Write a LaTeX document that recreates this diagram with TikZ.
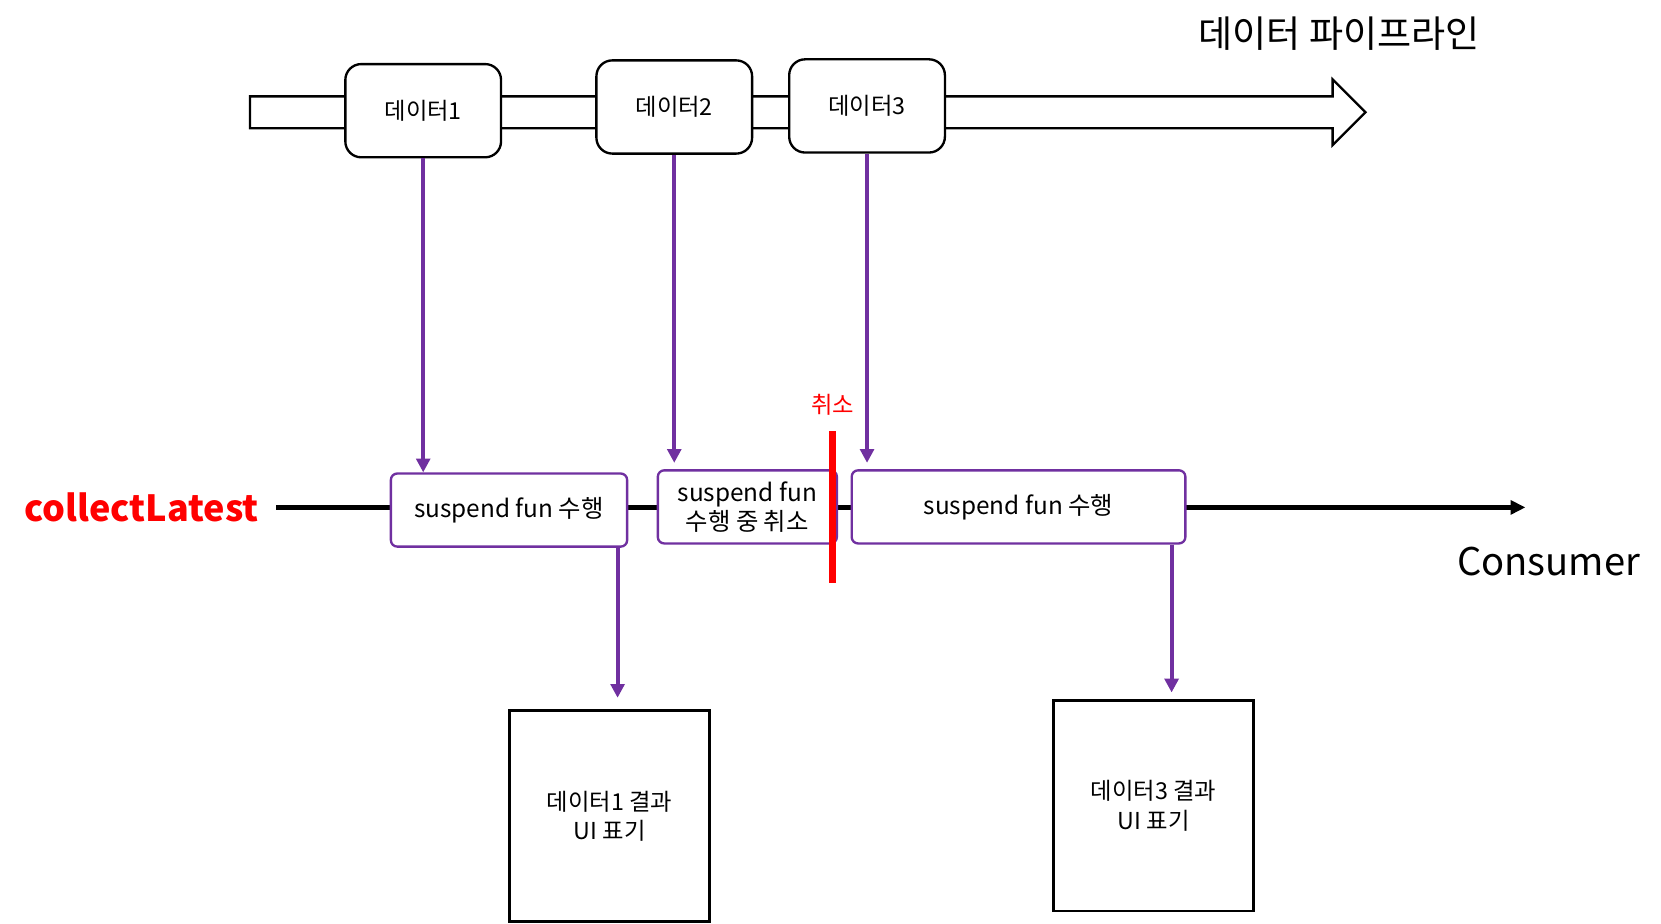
\documentclass[tikz,border=0pt]{standalone}
\usepackage{fontspec}
\setmainfont{Noto Sans CJK KR}
\usetikzlibrary{arrows.meta,calc}
\definecolor{ppl}{HTML}{7030A0}
\definecolor{rd}{HTML}{FF0000}
\begin{document}
\begin{tikzpicture}[x=1pt,y=-1pt,
  databox/.style={draw=black,line width=2.2pt,rounded corners=15pt,fill=white,
    minimum width=147pt,minimum height=88pt,inner sep=0pt,font=\fontsize{22}{28}\selectfont},
  suspbox/.style={draw=ppl,line width=2.2pt,rounded corners=6pt,fill=white,
    minimum height=69pt,inner sep=0pt,align=center,font=\fontsize{23}{27}\selectfont},
  resbox/.style={draw=black,line width=2.6pt,fill=white,minimum width=189pt,
    minimum height=199pt,inner sep=0pt,align=center,font=\fontsize{22}{28}\selectfont},
  parrow/.style={draw=ppl,line width=3.8pt,-{Triangle[length=13pt,width=13pt]}},
]
\useasboundingbox (0,0) rectangle (1568,872);
% pipeline arrow
\draw[line width=2.2pt,fill=white] (236,91) -- (1258,91) -- (1258,75) -- (1289,106)
  -- (1258,137) -- (1258,121) -- (236,121) -- cycle;
\node[font=\fontsize{35}{38}\selectfont,anchor=center] (title) at (1264,32) {데이터 파이프라인};
% consumer line
\coordinate (cs) at (261,479);
\coordinate (ce) at (1440,479);
\draw[line width=4.2pt,-{Triangle[length=14pt,width=13pt]}] (cs) -- (ce);
\node[font=\bfseries\fontsize{34}{38}\selectfont,text=rd] (cl) at (133.5,479) {collectLatest};
\node[font=\fontsize{36}{40}\selectfont] (cons) at (1462,530) {Consumer};
% data boxes
\node[databox] (d1) at (399.5,104.5) {데이터1};
\node[databox] (d2) at (636.5,101) {데이터2};
\node[databox] (d3) at (818.5,100) {데이터3};
% suspend boxes
\node[suspbox,minimum width=223pt] (s1) at (480.5,481.5) {suspend fun 수행};
\node[suspbox,minimum width=169pt] (s2) at (705.5,478.5) {suspend fun\\수행 중 취소};
\node[suspbox,minimum width=315pt] (s3) at (961.5,478.5) {suspend fun 수행};
% cancel line
\coordinate (ct) at (786,407);
\coordinate (cb) at (786,550);
\draw[draw=rd,line width=7pt] (ct) -- (cb);
\node[text=rd,font=\fontsize{22}{24}\selectfont] (cancel) at (786,382) {취소};
% result boxes
\node[resbox] (r1) at (575.5,770.5) {데이터1 결과\\UI 표기};
\node[resbox] (r2) at (1089,760.5) {데이터3 결과\\UI 표기};
% arrows
\draw[parrow] (d1.south) -- (d1.south |- s1.north);
\draw[parrow,shorten >=6pt] (d2.south) -- (d2.south |- s2.north);
\draw[parrow,shorten >=6pt] (d3.south) -- (d3.south |- s3.north);
\draw[parrow,shorten >=11pt] (s1.south -| 583,0) -- (583,0 |- r1.north);
\draw[parrow,shorten >=6pt] (s3.south -| 1106,0) -- (1106,0 |- r2.north);
\end{tikzpicture}
\end{document}
